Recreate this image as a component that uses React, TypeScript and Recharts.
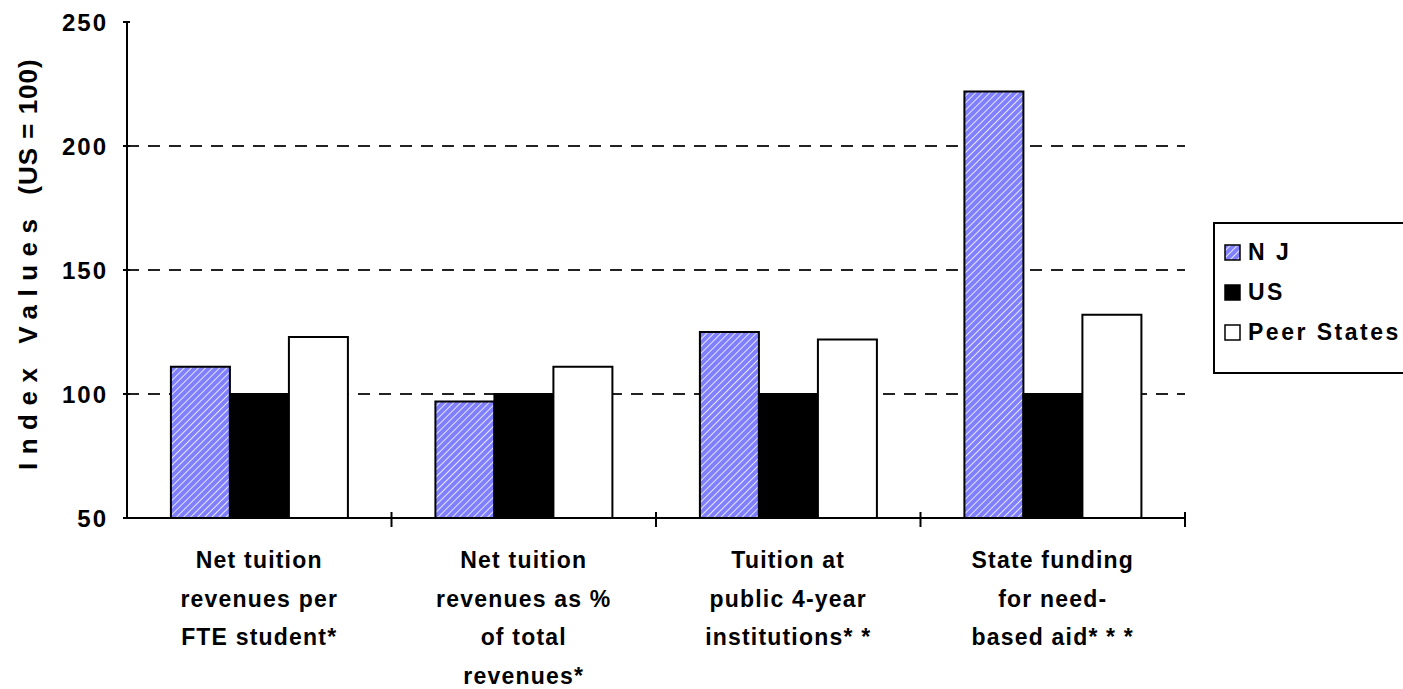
import { Bar, BarChart, CartesianGrid, Legend, XAxis, YAxis } from 'recharts';

const categories = [
  'Net tuition\nrevenues per\nFTE student*',
  'Net tuition\nrevenues as %\nof total\nrevenues*',
  'Tuition at\npublic 4-year\ninstitutions* *',
  'State funding\nfor need-\nbased aid* * *'
];
const njValues = [111, 97, 125, 222];
const usValues = [100, 100, 100, 100];
const peerValues = [123, 111, 122, 132];
const yTicks = [50, 100, 150, 200, 250];
const gridValues = [100, 150, 200];

const data = categories.map((name, i) => ({
  name,
  NJ: njValues[i],
  US: usValues[i],
  'Peer States': peerValues[i]
}));

const FONT = 'Arial, "Liberation Sans", sans-serif';
const PLOT_W = 1058;
const BAND = PLOT_W / categories.length;

function CategoryTick(props: any) {
  const { x, y, payload } = props;
  const lines = String(payload.value).split('\n');
  return (
    <g>
      <line x1={x + BAND / 2} x2={x + BAND / 2} y1={y - 6} y2={y + 9} stroke="#000" strokeWidth={2} />
      {lines.map((line, i) => (
        <text
          key={i}
          x={x}
          y={y + 50 + i * 38.5}
          textAnchor="middle"
          fontFamily={FONT}
          fontWeight="bold"
          fontSize={23}
          letterSpacing={1.2}
          fill="#000"
        >
          {line}
        </text>
      ))}
    </g>
  );
}

function YLabel() {
  return (
    <text
      transform="translate(37,470) rotate(-90)"
      fontFamily={FONT}
      fontWeight="bold"
      fontSize={26}
      fill="#000"
    >
      <tspan letterSpacing={8.5}>Index Values </tspan>
      <tspan letterSpacing={1}>(US = 100)</tspan>
    </text>
  );
}

const legendItems = [
  { key: 'NJ', label: 'N J', fill: 'url(#njStripes)' },
  { key: 'US', label: 'US', fill: '#000' },
  { key: 'Peer States', label: 'Peer States', fill: '#fff' }
];

function LegendBox() {
  return (
    <div
      style={{
        width: 200,
        height: 152,
        border: '2px solid #000',
        background: '#fff',
        boxSizing: 'border-box',
        paddingTop: 13
      }}
    >
      {legendItems.map((item) => (
        <div key={item.key} style={{ display: 'flex', alignItems: 'center', height: 50, marginTop: -10 }}>
          <svg width={17} height={17} style={{ marginLeft: 9, marginRight: 7 }}>
            <rect x={1} y={1} width={15} height={15} fill={item.fill} stroke="#000" strokeWidth={1.5} />
          </svg>
          <span
            style={{
              fontFamily: FONT,
              fontWeight: 'bold',
              fontSize: 23,
              letterSpacing: 2.5,
              color: '#000'
            }}
          >
            {item.label}
          </span>
        </div>
      ))}
    </div>
  );
}

export default function App() {
  return (
    <div style={{ position: 'absolute', left: 0, top: 0, width: 1403, height: 689, background: '#fff', overflow: 'hidden' }}>
      <svg width={0} height={0} style={{ position: 'absolute' }}>
        <defs>
          <pattern id="njStripes" width={5} height={5} patternUnits="userSpaceOnUse" patternTransform="rotate(45)">
            <rect width={5} height={5} fill="#8080ff" />
            <line x1={0} y1={0} x2={0} y2={5} stroke="#ffffff" strokeWidth={1.6} />
          </pattern>
        </defs>
      </svg>
      <BarChart
        width={1403}
        height={689}
        data={data}
        margin={{ top: 22, right: 218, bottom: 0, left: 0 }}
        barCategoryGap="16.6%"
        barGap={0}
      >
        <CartesianGrid
          vertical={false}
          horizontalValues={gridValues}
          stroke="#222"
          strokeWidth={2}
          strokeDasharray="12 9"
        />
        <XAxis
          xAxisId="top"
          orientation="top"
          dataKey="name"
          height={0}
          tick={false}
          tickLine={false}
          axisLine={{ stroke: '#999', strokeWidth: 2 }}
        />
        <YAxis
          yAxisId="right"
          orientation="right"
          width={0}
          domain={[50, 250]}
          tick={false}
          tickLine={false}
          axisLine={{ stroke: '#999', strokeWidth: 2 }}
        />
        <XAxis
          dataKey="name"
          height={171}
          interval={0}
          tickLine={false}
          tickSize={0}
          tickMargin={0}
          axisLine={{ stroke: '#000', strokeWidth: 2 }}
          tick={<CategoryTick />}
        />
        <YAxis
          width={127}
          domain={[50, 250]}
          ticks={yTicks}
          allowDataOverflow
          tickSize={7}
          tickMargin={12}
          tickLine={{ stroke: '#000', strokeWidth: 2, transform: 'translate(3,0)' }}
          axisLine={{ stroke: '#000', strokeWidth: 2 }}
          tick={{ fontFamily: FONT, fontWeight: 'bold', fontSize: 24, fill: '#000', letterSpacing: 2 }}
          label={<YLabel />}
        />
        <Legend
          layout="horizontal"
          align="center"
          verticalAlign="middle"
          content={<LegendBox />}
          wrapperStyle={{ position: 'absolute', left: 1213, top: 222, width: 200 }}
        />
        <Bar dataKey="NJ" fill="url(#njStripes)" stroke="#000" strokeWidth={2} isAnimationActive={false} />
        <Bar dataKey="US" fill="#000" stroke="#000" strokeWidth={2} isAnimationActive={false} />
        <Bar dataKey="Peer States" fill="#fff" stroke="#000" strokeWidth={2} isAnimationActive={false} />
      </BarChart>
    </div>
  );
}
